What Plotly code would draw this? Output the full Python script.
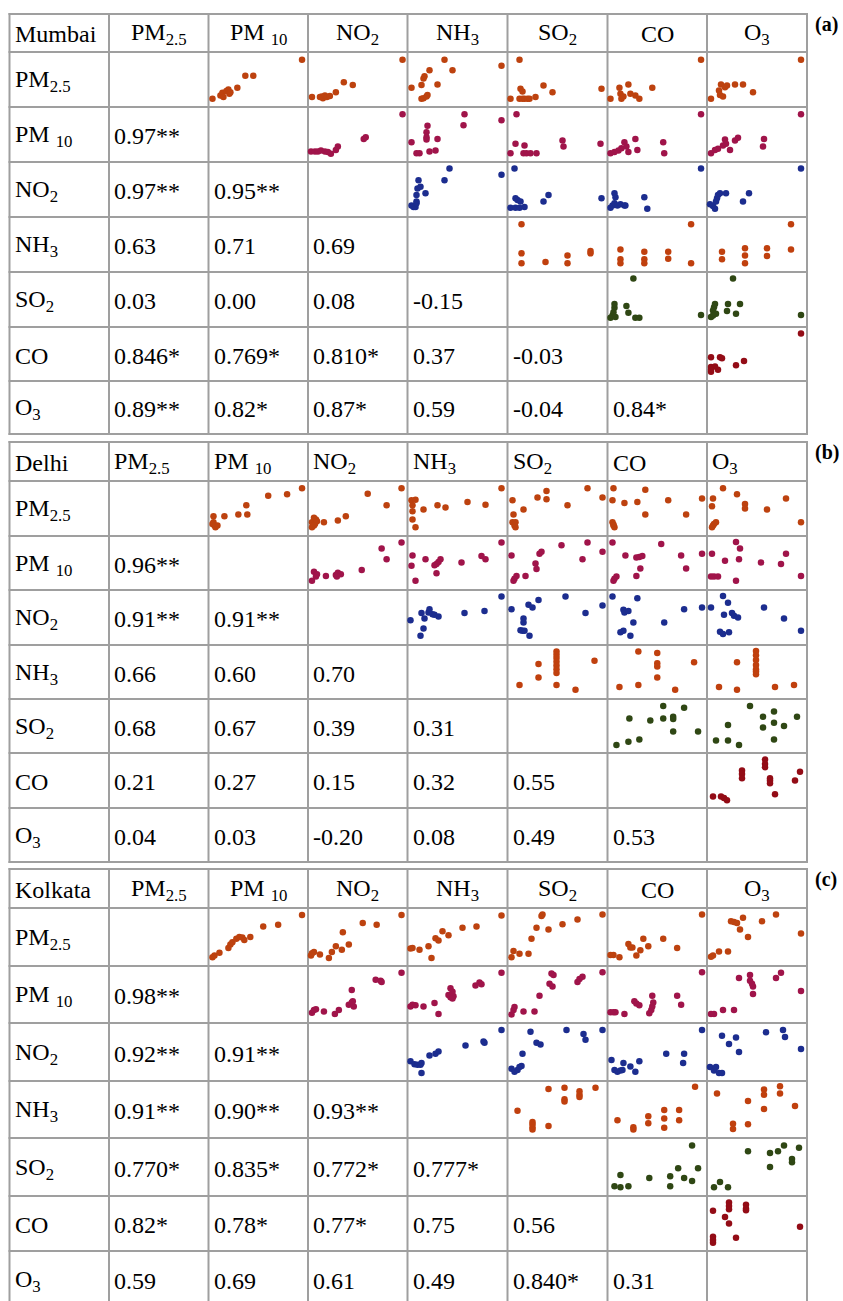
import plotly.graph_objects as go

W, H = 843, 1301

# ---------------- data ----------------
pollutants = ["PM<sub>2.5</sub>", "PM <sub>10</sub>", "NO<sub>2</sub>", "NH<sub>3</sub>",
              "SO<sub>2</sub>", "CO", "O<sub>3</sub>"]
cities = ["Mumbai", "Delhi", "Kolkata"]
panel_tags = ["(a)", "(b)", "(c)"]

# lower triangle: correlation coefficients (row pollutant vs earlier column pollutants)
mumbai_r = [["0.97**"],
            ["0.97**", "0.95**"],
            ["0.63", "0.71", "0.69"],
            ["0.03", "0.00", "0.08", "-0.15"],
            ["0.846*", "0.769*", "0.810*", "0.37", "-0.03"],
            ["0.89**", "0.82*", "0.87*", "0.59", "-0.04", "0.84*"]]
delhi_r = [["0.96**"],
           ["0.91**", "0.91**"],
           ["0.66", "0.60", "0.70"],
           ["0.68", "0.67", "0.39", "0.31"],
           ["0.21", "0.27", "0.15", "0.32", "0.55"],
           ["0.04", "0.03", "-0.20", "0.08", "0.49", "0.53"]]
kolkata_r = [["0.98**"],
             ["0.92**", "0.91**"],
             ["0.91**", "0.90**", "0.93**"],
             ["0.770*", "0.835*", "0.772*", "0.777*"],
             ["0.82*", "0.78*", "0.77*", "0.75", "0.56"],
             ["0.59", "0.69", "0.61", "0.49", "0.840*", "0.31"]]

# upper triangle: scatter points (relative scale 0-100), cells in order
# PM2.5 x (PM10,NO2,NH3,SO2,CO,O3), PM10 x (NO2..O3), NO2 x (NH3..O3), NH3 x (SO2,CO,O3), SO2 x (CO,O3), CO x O3
mumbai_x = [
    [4, 12, 14, 15, 18, 20, 21, 22, 29, 37, 45, 94],
    [4, 12, 14, 15, 17, 19, 22, 28, 36, 45, 95],
    [4, 14, 16, 17, 22, 30, 37, 45, 94, 14, 16, 19, 20],
    [3, 12, 13, 15, 12, 15, 17, 20, 22, 28, 36, 45, 94],
    [3, 12, 13, 14, 16, 21, 23, 28, 32, 45, 94],
    [4, 12, 13, 14, 16, 18, 20, 28, 36, 46, 94],
    [3, 7, 10, 13, 17, 20, 23, 28, 30, 56, 58, 95],
    [4, 9, 12, 20, 19, 19, 19, 22, 28, 30, 57, 56, 94],
    [3, 8, 9, 17, 16, 19, 23, 29, 55, 56, 93],
    [3, 7, 11, 14, 17, 19, 21, 28, 30, 56, 57, 94],
    [4, 8, 11, 16, 18, 19, 23, 28, 31, 57, 56, 94],
    [4, 6, 8, 9, 9, 10, 11, 13, 18, 9, 37, 42, 94],
    [3, 7, 8, 10, 8, 12, 13, 17, 36, 41, 94],
    [3, 5, 7, 8, 7, 10, 13, 17, 18, 37, 40, 94],
    [3, 6, 8, 9, 10, 11, 13, 19, 36, 42, 94],
    [14, 14, 14, 38, 60, 60, 83, 83],
    [13, 13, 13, 37, 37, 37, 61, 61, 84, 84],
    [15, 15, 38, 38, 38, 60, 60, 84, 84],
    [3, 5, 7, 7, 6, 8, 19, 21, 26, 28, 32, 94],
    [4, 6, 7, 8, 9, 6, 20, 21, 26, 29, 33, 94],
    [4, 13, 15, 4, 4, 11, 8, 29, 37, 94, 4],
]
mumbai_y = [
    [15, 21, 26, 18, 29, 32, 24, 27, 35, 57, 57, 86],
    [18, 18, 19, 16, 21, 18, 20, 27, 45, 40, 86],
    [35, 40, 52, 56, 67, 41, 86, 67, 75, 15, 16, 19, 22],
    [15, 86, 33, 28, 15, 15, 15, 15, 15, 18, 39, 27, 33],
    [15, 35, 24, 15, 19, 41, 24, 21, 15, 35, 86],
    [15, 30, 22, 41, 19, 36, 39, 41, 41, 27, 86],
    [19, 19, 19, 21, 19, 18, 15, 22, 28, 42, 45, 87],
    [36, 16, 16, 66, 54, 45, 41, 19, 21, 42, 87, 67, 76],
    [16, 33, 87, 30, 16, 16, 16, 16, 39, 28, 33],
    [16, 18, 21, 25, 36, 28, 18, 42, 22, 36, 16, 87],
    [16, 22, 24, 30, 41, 33, 22, 39, 44, 42, 28, 87],
    [21, 18, 18, 28, 40, 52, 67, 55, 43, 25, 67, 88, 77],
    [17, 88, 34, 31, 17, 17, 28, 18, 28, 40, 34],
    [17, 21, 43, 36, 25, 21, 23, 21, 21, 36, 15, 88],
    [23, 20, 15, 28, 34, 40, 43, 43, 28, 43, 88],
    [87, 34, 16, 18, 30, 16, 38, 34],
    [41, 23, 16, 37, 23, 16, 37, 24, 87, 16],
    [37, 23, 43, 30, 16, 43, 29, 87, 41],
    [17, 21, 35, 42, 27, 18, 38, 26, 88, 17, 17, 22],
    [18, 30, 36, 42, 24, 21, 29, 42, 88, 24, 42, 22],
    [44, 44, 42, 26, 17, 21, 27, 29, 37, 88, 21],
]
delhi_x = [
    [5, 5, 6, 7, 9, 4, 16, 30, 38, 39, 60, 79, 94],
    [4, 4, 6, 8, 7, 9, 16, 30, 38, 60, 79, 94, 6],
    [4, 5, 8, 5, 5, 8, 16, 30, 38, 60, 78, 94],
    [5, 6, 5, 7, 8, 8, 16, 30, 39, 39, 60, 80, 95],
    [6, 5, 5, 6, 7, 6, 17, 30, 38, 38, 61, 79, 95],
    [6, 5, 6, 7, 9, 5, 16, 30, 38, 38, 60, 79, 94],
    [4, 6, 8, 9, 18, 28, 30, 33, 54, 74, 79, 94, 29],
    [5, 4, 8, 18, 29, 31, 33, 29, 27, 54, 74, 78, 94],
    [4, 6, 7, 9, 18, 28, 29, 32, 34, 54, 75, 80, 95],
    [5, 6, 7, 9, 18, 29, 32, 35, 33, 29, 54, 74, 79, 95],
    [5, 4, 7, 11, 18, 29, 33, 32, 29, 54, 74, 79, 94],
    [3, 13, 16, 14, 17, 21, 22, 25, 27, 31, 57, 77, 94],
    [4, 16, 16, 13, 15, 17, 22, 21, 25, 31, 58, 78, 95],
    [5, 16, 17, 21, 26, 16, 13, 23, 30, 57, 77, 95],
    [4, 16, 21, 17, 25, 27, 31, 13, 16, 22, 57, 77, 94],
    [12, 31, 31, 49, 49, 49, 49, 49, 49, 49, 49, 68, 87],
    [12, 31, 31, 50, 50, 50, 50, 68, 87],
    [12, 30, 30, 49, 49, 49, 49, 49, 49, 49, 68, 87],
    [9, 22, 21, 32, 43, 56, 56, 66, 66, 66, 77, 91],
    [9, 21, 21, 32, 43, 56, 56, 67, 67, 67, 77, 90],
    [6, 14, 17, 20, 35, 35, 35, 58, 58, 58, 63, 63, 63, 68, 88, 93],
]
delhi_y = [
    [36, 25, 19, 16, 19, 22, 36, 39, 56, 39, 73, 76, 87],
    [25, 16, 33, 30, 22, 27, 25, 28, 36, 77, 56, 87, 19],
    [65, 56, 66, 45, 30, 16, 48, 56, 52, 62, 57, 87],
    [65, 39, 25, 19, 25, 16, 48, 70, 82, 67, 56, 87, 70],
    [87, 65, 25, 21, 16, 19, 60, 62, 84, 39, 65, 39, 68],
    [68, 54, 19, 22, 25, 16, 87, 76, 58, 50, 48, 68, 25],
    [17, 34, 25, 29, 26, 28, 32, 29, 37, 77, 57, 88, 25],
    [64, 45, 17, 57, 48, 52, 57, 31, 46, 51, 63, 57, 88],
    [64, 17, 21, 26, 26, 49, 39, 67, 71, 83, 57, 88, 71],
    [88, 17, 21, 25, 64, 60, 61, 63, 40, 26, 85, 64, 40, 67],
    [67, 25, 25, 25, 54, 89, 77, 57, 17, 51, 48, 67, 26],
    [45, 17, 30, 58, 48, 59, 65, 56, 55, 52, 58, 62, 88],
    [65, 48, 41, 27, 26, 26, 17, 73, 68, 82, 88, 58, 72],
    [88, 64, 59, 62, 41, 26, 23, 17, 85, 41, 65, 68],
    [68, 89, 77, 55, 58, 53, 50, 24, 20, 23, 68, 48, 26],
    [26, 65, 40, 88, 82, 76, 69, 62, 55, 48, 26, 17, 71],
    [22, 88, 26, 85, 66, 60, 40, 17, 68],
    [22, 68, 17, 89, 81, 72, 63, 55, 51, 46, 22, 26],
    [15, 64, 21, 25, 60, 87, 64, 67, 63, 40, 84, 40],
    [23, 52, 23, 15, 87, 67, 47, 77, 56, 25, 50, 67],
    [21, 21, 18, 14, 68, 62, 54, 88, 80, 74, 54, 50, 45, 25, 50, 66],
]
kolkata_x = [
    [4, 6, 11, 20, 22, 24, 28, 31, 34, 36, 42, 55, 70, 94],
    [3, 6, 12, 21, 24, 28, 34, 35, 41, 55, 69, 94, 4],
    [3, 5, 12, 21, 24, 28, 31, 35, 41, 55, 69, 94],
    [4, 6, 12, 21, 24, 29, 34, 35, 41, 55, 70, 95],
    [3, 6, 12, 21, 23, 25, 29, 33, 36, 41, 56, 70, 95],
    [4, 6, 12, 21, 24, 27, 30, 33, 36, 41, 55, 69, 94],
    [4, 6, 8, 16, 27, 31, 41, 44, 44, 46, 45, 68, 73, 74, 94],
    [3, 5, 8, 16, 27, 31, 41, 43, 45, 46, 43, 45, 68, 72, 74, 94],
    [4, 6, 7, 16, 27, 32, 42, 44, 46, 45, 70, 72, 75, 95],
    [3, 6, 8, 17, 27, 29, 32, 42, 44, 45, 46, 45, 70, 74, 95],
    [4, 7, 16, 27, 32, 43, 43, 46, 46, 45, 69, 74, 94],
    [3, 7, 10, 13, 14, 14, 22, 28, 31, 58, 76, 77, 94],
    [4, 7, 10, 12, 14, 15, 23, 29, 33, 59, 76, 78, 95],
    [4, 7, 10, 13, 16, 15, 23, 28, 32, 59, 77, 76, 95],
    [3, 7, 9, 12, 15, 15, 22, 29, 32, 59, 76, 78, 94],
    [10, 25, 25, 25, 25, 41, 41, 57, 57, 57, 72, 72, 72, 88],
    [10, 26, 26, 41, 41, 57, 57, 57, 72, 72, 88],
    [10, 26, 26, 41, 41, 57, 57, 57, 73, 73, 88],
    [7, 13, 13, 21, 42, 63, 63, 71, 77, 85, 85, 91],
    [7, 13, 21, 41, 63, 63, 71, 77, 85, 85, 92],
    [6, 6, 6, 6, 18, 22, 22, 22, 22, 29, 39, 39, 39, 93],
]
kolkata_y = [
    [15, 18, 23, 31, 37, 41, 47, 50, 49, 45, 50, 68, 71, 88],
    [18, 24, 20, 14, 24, 34, 28, 58, 37, 74, 71, 88, 22],
    [30, 31, 28, 34, 14, 48, 44, 60, 53, 66, 68, 87],
    [15, 26, 21, 21, 47, 66, 86, 89, 63, 72, 80, 89],
    [19, 19, 15, 38, 32, 32, 18, 27, 47, 34, 47, 31, 89],
    [16, 18, 25, 25, 77, 76, 74, 63, 83, 50, 77, 89, 56],
    [18, 23, 24, 20, 16, 23, 32, 36, 58, 29, 38, 76, 74, 72, 88],
    [29, 32, 31, 29, 35, 16, 49, 61, 55, 47, 45, 43, 66, 71, 68, 88],
    [15, 23, 28, 20, 20, 48, 69, 87, 84, 64, 72, 77, 81, 89],
    [19, 19, 19, 16, 38, 34, 31, 17, 23, 29, 36, 48, 48, 32, 89],
    [16, 16, 23, 23, 79, 84, 74, 64, 51, 69, 79, 88, 56],
    [34, 29, 28, 28, 31, 14, 44, 47, 51, 61, 68, 66, 88],
    [21, 16, 19, 24, 26, 47, 85, 66, 63, 88, 81, 71, 88],
    [36, 19, 16, 18, 31, 19, 25, 16, 34, 47, 47, 31, 88],
    [24, 18, 24, 14, 14, 78, 64, 75, 50, 84, 88, 76, 55],
    [48, 28, 24, 19, 15, 86, 21, 88, 68, 64, 82, 76, 72, 88],
    [31, 19, 15, 38, 26, 49, 34, 18, 49, 31, 90],
    [78, 25, 16, 65, 24, 85, 76, 51, 91, 78, 56],
    [17, 36, 15, 17, 31, 34, 17, 48, 31, 87, 26, 48],
    [15, 24, 15, 77, 50, 74, 77, 87, 64, 58, 83],
    [73, 26, 20, 15, 62, 88, 82, 76, 50, 24, 84, 77, 74, 44],
]

# ---------------- styling / layout geometry ----------------
row_colors = ["#bd420f", "#a0144a", "#1c2d8f", "#c0400e", "#2f4714", "#930c16"]
FONT = "Liberation Serif, Times New Roman, serif"
FS = 24
LINE = "#9f9f9f"

col_edges = [9.5, 109, 208.5, 308, 407.5, 507.5, 607.5, 707, 807]
panel_rows = [
    [14, 52, 107, 162, 217, 272, 327, 381, 434],
    [442, 481, 536, 590, 645, 699, 753, 808, 862],
    [869, 908, 966, 1023, 1081, 1138, 1196, 1251, 1307],
]
header_align = ["center", "left", "center"]

panels = [
    (mumbai_r, mumbai_x, mumbai_y),
    (delhi_r, delhi_x, delhi_y),
    (kolkata_r, kolkata_x, kolkata_y),
]


def px(x):
    return x / W


def py(y):
    return 1 - y / H


fig = go.Figure()
shapes = []
annotations = []
layout_axes = {}
ax_n = 0

for p, (rvals, sx, sy) in enumerate(panels):
    rows = panel_rows[p]
    # grid lines
    for y in rows:
        shapes.append(dict(type="line", xref="paper", yref="paper",
                           x0=px(col_edges[0] - 1), x1=px(col_edges[-1] + 1), y0=py(y), y1=py(y),
                           line=dict(color=LINE, width=2), layer="below"))
    for x in col_edges:
        shapes.append(dict(type="line", xref="paper", yref="paper",
                           x0=px(x), x1=px(x), y0=py(rows[0] - 1), y1=py(rows[-1] + 1),
                           line=dict(color=LINE, width=2), layer="below"))

    def ycen(r):
        return py((rows[r] + rows[r + 1]) / 2 + 1.5)

    # header
    annotations.append(dict(text=cities[p], x=px(col_edges[0] + 3), y=ycen(0),
                            xanchor="left", yanchor="middle"))
    for j, name in enumerate(pollutants):
        if header_align[p] == "center":
            annotations.append(dict(text=name, x=px((col_edges[j + 1] + col_edges[j + 2]) / 2),
                                    y=ycen(0), xanchor="center", yanchor="middle"))
        else:
            annotations.append(dict(text=name, x=px(col_edges[j + 1] + 3), y=ycen(0),
                                    xanchor="left", yanchor="middle"))
    # panel tag
    annotations.append(dict(text="<b>" + panel_tags[p] + "</b>", x=px(813), y=py(rows[0] + 10),
                            xanchor="left", yanchor="middle", font=dict(size=20)))
    # row labels + correlation values
    for i, name in enumerate(pollutants):
        annotations.append(dict(text=name, x=px(col_edges[0] + 3), y=ycen(i + 1),
                                xanchor="left", yanchor="middle"))
        if i >= 1:
            for j, v in enumerate(rvals[i - 1]):
                annotations.append(dict(text=v, x=px(col_edges[j + 1] + 3), y=ycen(i + 1),
                                        xanchor="left", yanchor="middle"))
    # scatter cells (upper triangle)
    k = 0
    for i in range(6):
        for j in range(i + 1, 7):
            ax_n += 1
            sfx = "" if ax_n == 1 else str(ax_n)
            layout_axes["xaxis" + sfx] = dict(
                domain=[px(col_edges[j + 1]), px(col_edges[j + 2])], range=[0, 100],
                visible=False, fixedrange=True, anchor="y" + sfx)
            layout_axes["yaxis" + sfx] = dict(
                domain=[py(rows[i + 2]), py(rows[i + 1])], range=[0, 100],
                visible=False, fixedrange=True, anchor="x" + sfx)
            fig.add_trace(go.Scatter(
                x=sx[k], y=sy[k], mode="markers", xaxis="x" + sfx, yaxis="y" + sfx,
                marker=dict(size=6.5, color=row_colors[i], line=dict(width=0)),
                cliponaxis=False, showlegend=False, hoverinfo="skip"))
            k += 1

for a in annotations:
    a["showarrow"] = False
    a["xref"] = "paper"
    a["yref"] = "paper"
    f = a.get("font", {})
    f.setdefault("family", FONT)
    f.setdefault("size", FS)
    f.setdefault("color", "black")
    a["font"] = f

fig.update_layout(
    width=W, height=H, margin=dict(l=0, r=0, t=0, b=0),
    paper_bgcolor="white", plot_bgcolor="rgba(0,0,0,0)",
    shapes=shapes, annotations=annotations, showlegend=False,
    **layout_axes,
)

fig.write_html("out.html")
